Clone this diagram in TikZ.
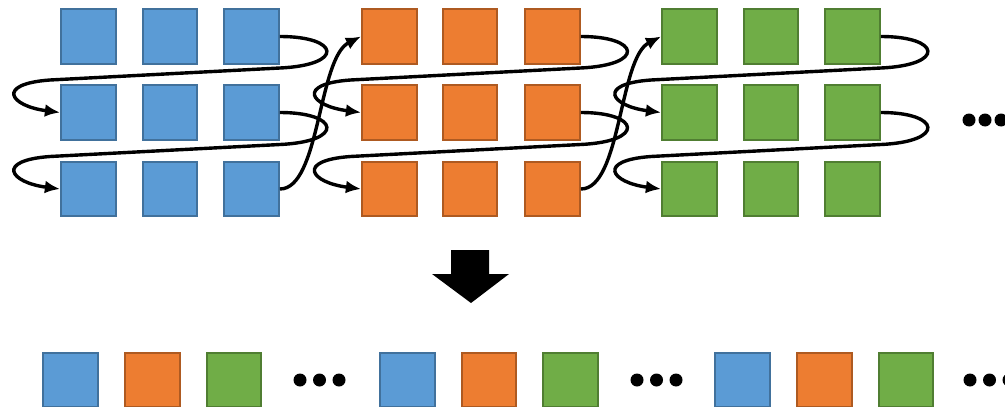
\documentclass[tikz,border=0pt]{standalone}
\usepackage{xcolor}
\usepackage{tikz}
\usetikzlibrary{arrows.meta}

\definecolor{blueFill}{HTML}{5B9BD5}
\definecolor{blueLine}{HTML}{41719C}
\definecolor{orangeFill}{HTML}{ED7D31}
\definecolor{orangeLine}{HTML}{AE5A21}
\definecolor{greenFill}{HTML}{70AD47}
\definecolor{greenLine}{HTML}{507E32}

\begin{document}
\begin{tikzpicture}[x=0.025cm,y=-0.025cm,
    cell/.style={draw,line width=0.05cm,minimum size=1.37cm,inner sep=0pt},
    bluecell/.style={cell,fill=blueFill,draw=blueLine},
    orangecell/.style={cell,fill=orangeFill,draw=orangeLine},
    greencell/.style={cell,fill=greenFill,draw=greenLine},
    flow/.style={line width=0.085cm,-{Latex[length=0.38cm,width=0.32cm]}},
    dot/.style={fill=black}]
        \useasboundingbox (0,0) rectangle (1005,407);
        % blue block
        \node[bluecell] (b11) at (88.5,36.5) {};
        \node[bluecell] (b12) at (170,36.5) {};
        \node[bluecell] (b13) at (251.5,36.5) {};
        \node[bluecell] (b21) at (88.5,112.5) {};
        \node[bluecell] (b22) at (170,112.5) {};
        \node[bluecell] (b23) at (251.5,112.5) {};
        \node[bluecell] (b31) at (88.5,189) {};
        \node[bluecell] (b32) at (170,189) {};
        \node[bluecell] (b33) at (251.5,189) {};
        % orange block
        \node[orangecell] (o11) at (389.5,36.5) {};
        \node[orangecell] (o12) at (470,36.5) {};
        \node[orangecell] (o13) at (552.5,36.5) {};
        \node[orangecell] (o21) at (389.5,112.5) {};
        \node[orangecell] (o22) at (470,112.5) {};
        \node[orangecell] (o23) at (552.5,112.5) {};
        \node[orangecell] (o31) at (389.5,189) {};
        \node[orangecell] (o32) at (470,189) {};
        \node[orangecell] (o33) at (552.5,189) {};
        % green block
        \node[greencell] (g11) at (689.5,36.5) {};
        \node[greencell] (g12) at (771,36.5) {};
        \node[greencell] (g13) at (852.5,36.5) {};
        \node[greencell] (g21) at (689.5,112.5) {};
        \node[greencell] (g22) at (771,112.5) {};
        \node[greencell] (g23) at (852.5,112.5) {};
        \node[greencell] (g31) at (689.5,189) {};
        \node[greencell] (g32) at (771,189) {};
        \node[greencell] (g33) at (852.5,189) {};
        % reading order
        \draw[flow] (b13.east) .. controls (340,36.5) and (345,65) .. (280,68) -- (50,80) .. controls (-5,84) and (10,106) .. (b21.west);
        \draw[flow] (b23.east) .. controls (340,112.5) and (345,141.5) .. (280,144.5) -- (50,156.5) .. controls (-5,160.5) and (10,182.5) .. (b31.west);
        \draw[flow] (b33.east) .. controls (320,189) and (318,58) .. (o11.west);
        \draw[flow] (o13.east) .. controls (640.5,36.5) and (645.5,65) .. (580.5,68) -- (350.5,80) .. controls (295.5,84) and (310.5,106) .. (o21.west);
        \draw[flow] (o23.east) .. controls (640.5,112.5) and (645.5,141.5) .. (580.5,144.5) -- (350.5,156.5) .. controls (295.5,160.5) and (310.5,182.5) .. (o31.west);
        \draw[flow] (o33.east) .. controls (621,189) and (619,58) .. (g11.west);
        \draw[flow] (g13.east) .. controls (941,36.5) and (946,65) .. (881,68) -- (651,80) .. controls (596,84) and (611,106) .. (g21.west);
        \draw[flow] (g23.east) .. controls (941,112.5) and (946,141.5) .. (881,144.5) -- (651,156.5) .. controls (596,160.5) and (611,182.5) .. (g31.west);
        \fill[dot] (969,120) circle (6.5) (985,120) circle (6.5) (1001,120) circle (6.5);
        % big arrow
        \fill[black] (451,250) -- (489,250) -- (489,274) -- (509,274) -- (471,303) -- (432,274) -- (451,274) -- cycle;
        % flattened sequence
        \node[bluecell] (s1) at (70.5,380) {};
        \node[orangecell] (s2) at (152.5,380) {};
        \node[greencell] (s3) at (234,380) {};
        \fill[dot] (300,380) circle (6.5) (319.5,380) circle (6.5) (339,380) circle (6.5);
        \node[bluecell] (s4) at (407.5,380) {};
        \node[orangecell] (s5) at (489,380) {};
        \node[greencell] (s6) at (570.5,380) {};
        \fill[dot] (637,380) circle (6.5) (656.5,380) circle (6.5) (676,380) circle (6.5);
        \node[bluecell] (s7) at (742.5,380) {};
        \node[orangecell] (s8) at (824.5,380) {};
        \node[greencell] (s9) at (906,380) {};
        \fill[dot] (970,380) circle (6.5) (989.5,380) circle (6.5) (1009,380) circle (6.5);
    \end{tikzpicture}
\end{document}
